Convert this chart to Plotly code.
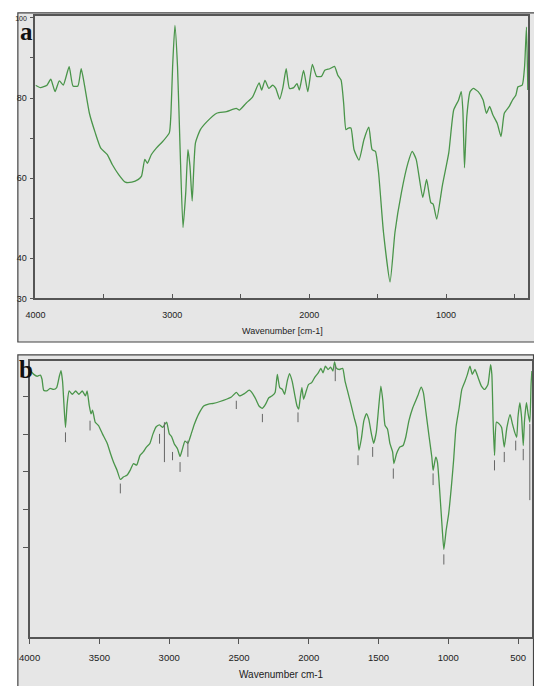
import plotly.graph_objects as go

W, H = 534, 686

# ---------------- Panel a data ----------------
a_wn = [4000, 3964, 3916, 3888, 3857, 3826, 3797, 3754, 3726, 3690, 3666, 3642, 3606, 3563, 3523,
        3475, 3439, 3392, 3344, 3296, 3248, 3225, 3201, 3182, 3153, 3117, 3069, 3022, 3010, 2998,
        2981, 2962, 2943, 2922, 2902, 2886, 2871, 2855, 2831, 2795, 2747, 2676, 2604, 2533, 2509,
        2461, 2413, 2366, 2347, 2323, 2294,
        2268, 2244, 2216, 2192, 2168, 2144, 2113, 2089, 2072, 2041, 2010, 1977, 1946, 1910, 1886,
        1850, 1815, 1791, 1767, 1748, 1731, 1714, 1695, 1672, 1636, 1600, 1564, 1540, 1516, 1493,
        1457, 1409, 1373, 1326, 1278, 1247, 1218, 1170, 1142, 1111, 1094, 1068, 1027, 980, 944,
        908, 889, 877, 865, 848, 824, 801, 765, 729, 705, 681, 658, 626, 598, 574, 538, 514, 490,
        474, 443, 426, 412, 402]
a_T = [83.2, 82.6, 83.2, 84.7, 81.6, 84.3, 83.2, 87.8, 83.0, 83.0, 87.3, 83.2, 76.2, 71.3, 67.5,
       65.9, 63.4, 60.9, 59.0, 59.0, 59.7, 60.5, 64.7, 63.7, 65.9, 67.5, 69.2, 71.3, 76.2, 87.8,
       98.1, 87.8, 67.1, 47.7, 56.4, 67.1, 63.0, 54.3, 68.8, 72.1, 74.1, 76.2, 76.6, 77.4, 77.0,
       78.7, 80.3, 83.8, 82.0, 84.4, 82.4,
       83.2, 82.4, 79.7, 82.6, 87.3, 82.4, 82.6, 83.6, 82.0, 86.9, 81.6, 88.4, 85.4, 85.4, 86.9,
       87.3, 87.9, 85.7, 84.5, 78.7, 72.1, 72.5, 72.5, 67.1, 64.5, 69.6, 72.7, 67.1, 66.7, 61.4,
       46.5, 34.1, 46.5, 56.4, 63.8, 66.7, 64.7, 55.2, 59.7, 53.9, 53.5, 49.8, 58.1, 66.3, 77.0,
       79.5, 81.6, 77.0, 62.6, 75.4, 81.6, 82.4, 81.6, 79.5, 76.2, 77.9, 75.8, 73.7, 70.4, 76.2,
       77.9, 79.5, 80.7, 82.8, 83.2, 87.8, 97.7, 82.0]

a_xtickvals = [4000, 3500, 3000, 2500, 2000, 1500, 1000, 500, 400]
a_xticktext = ["4000", "", "3000", "", "2000", "", "1000", "", "400"]
a_ytickvals = [30, 40, 50, 60, 70, 80, 90, 100]
a_yticktext = ["30", "40", "", "60", "", "80", "", "<span style='font-size:7px'>100</span>"]

# ---------------- Panel b data ----------------
b_wn = [3993, 3970, 3946, 3923, 3911, 3899, 3876, 3853, 3829, 3806, 3787, 3775, 3764, 3754, 3743,
        3731, 3717, 3694, 3670, 3647, 3623, 3600, 3588, 3572, 3560, 3549, 3530, 3506, 3478, 3443,
        3420, 3397, 3373, 3350, 3326, 3303, 3280, 3256, 3233, 3209, 3186, 3163, 3139, 3116, 3093,
        3069, 3046, 3034, 3018, 2999, 2983, 2964, 2940, 2922, 2905, 2887, 2866, 2842, 2819, 2788,
        2753, 2718, 2683, 2636, 2590, 2554, 2519, 2496, 2461, 2426, 2402, 2379, 2356, 2332, 2309,
        2286, 2262,
        2241, 2225, 2208, 2189, 2173, 2154, 2138, 2119, 2101, 2084, 2072, 2061, 2049, 2037, 2021,
        2002, 1979, 1956, 1932, 1913, 1897, 1881, 1862, 1843, 1827, 1815, 1803, 1780, 1757, 1740,
        1722, 1698, 1675, 1656, 1640, 1623, 1605, 1586, 1570, 1551, 1535, 1516, 1499, 1483, 1469,
        1453, 1436, 1418, 1399, 1390, 1371, 1347, 1324, 1305, 1282, 1254, 1219, 1195, 1179, 1160,
        1137, 1118, 1109, 1090, 1078, 1062, 1043, 1032, 1015, 997, 978, 962, 945, 922, 903, 880,
        863, 845, 828, 809, 786, 763, 739, 716, 697, 688, 679, 669, 655, 634, 618, 599, 580, 557,
        540, 524, 510, 501, 487, 475, 463, 454, 440, 428, 416, 407, 401]
b_T = [106.8, 105.9, 105.4, 105.7, 104.6, 101.7, 101.5, 102.2, 101.9, 102.4, 105.4, 106.9, 104.1, 98.0, 91.8,
       98.0, 101.5, 100.6, 101.5, 100.6, 101.5, 100.2, 101.5, 97.5, 95.4, 96.4, 93.2, 92.3, 90.1, 87.5,
       84.8, 82.4, 80.4, 78.0, 78.7, 79.1, 80.4, 82.2, 81.8, 84.4, 85.3, 86.6, 87.5, 90.1, 92.0,
       92.5, 91.8, 92.5, 93.2, 90.1, 89.4, 87.5, 86.1, 84.1, 86.1, 88.2, 87.6, 90.1, 92.7, 95.4,
       97.5, 98.0, 98.2, 98.7, 99.3, 99.9, 101.1, 100.2, 100.8, 101.7, 100.8, 99.3, 97.5, 96.9, 98.0,
       99.7, 100.2,
       101.1, 105.9, 102.4, 101.9, 100.6, 104.1, 106.1, 104.1, 100.6, 97.5, 96.7, 99.7, 102.4, 99.3, 101.1,
       103.2, 103.7, 105.2, 106.3, 107.5, 106.3, 108.1, 107.2, 107.8, 106.8, 109.2, 107.6, 107.2, 107.5, 104.1,
       101.5, 98.0, 94.5, 91.8, 85.7, 88.8, 93.6, 95.5, 94.0, 90.1, 87.6, 90.5, 97.1, 102.8, 98.9,
       92.3, 91.4, 87.5, 85.3, 82.2, 84.8, 86.6, 87.0, 89.2, 93.6, 97.1, 100.2, 102.5, 101.1, 95.8,
       89.2, 83.9, 80.4, 83.9, 82.6, 75.2, 64.6, 59.4, 64.6, 69.0, 76.1, 83.1, 91.8, 97.1, 101.9, 104.1,
       105.9, 108.1, 105.9, 107.2, 105.0, 102.8, 101.9, 103.2, 108.5, 105.9, 93.6, 84.4, 93.2, 92.7, 91.8, 86.6, 91.8, 95.2,
       92.7, 90.5, 89.2, 94.5, 98.4, 94.5, 87.0, 93.6, 98.4, 95.4, 93.2, 103.2, 106.8]

# peak-marker ticks (wavenumber, top and bottom of the small vertical line)
b_peak_wn = [3743, 3567, 3350, 3069, 3034, 2976, 2922, 2866, 2519, 2332,
             2077, 1810, 1647, 1542, 1394, 1109, 1032, 669, 599, 517, 463, 416]
b_peak_top = [90.5, 93.6, 76.9, 90.1, 93.2, 85.3, 82.6, 88.3, 98.9, 95.4,
              95.8, 108.1, 84.4, 86.6, 80.9, 79.6, 58.1, 83.1, 85.3, 88.3, 86.1, 92.7]
b_peak_bot = [87.9, 91.0, 74.3, 87.5, 82.6, 83.1, 80.0, 84.0, 96.7, 93.2,
              93.2, 104.1, 81.8, 84.0, 78.2, 76.5, 55.4, 80.4, 82.6, 85.7, 83.1, 72.5]

b_xtickvals = [4000, 3500, 3000, 2500, 2000, 1500, 1000, 500]
b_xticktext = ["4000", "3500", "3000", "2500", "2000", "1500", "1000", "500"]
b_ytickvals = [60, 70, 80, 90, 100]

# ---------------- figure ----------------
LINE = "#4a954a"
BG = "#e6e6e6"
AX = "#555555"
SANS = "Liberation Sans, Arial, sans-serif"
SERIF = "Liberation Serif, Times New Roman, serif"


def px(x):
    return x / W


def py(y):
    return 1 - y / H


fig = go.Figure()
fig.add_trace(go.Scatter(x=a_wn, y=a_T, mode="lines",
                         line=dict(color=LINE, width=1.3, shape="spline", smoothing=0.5),
                         xaxis="x", yaxis="y", showlegend=False, hoverinfo="skip"))
fig.add_trace(go.Scatter(x=b_wn, y=b_T, mode="lines",
                         line=dict(color=LINE, width=1.3, shape="spline", smoothing=0.5),
                         xaxis="x2", yaxis="y2", showlegend=False, hoverinfo="skip"))

mx, my = [], []
for w, t, b in zip(b_peak_wn, b_peak_top, b_peak_bot):
    mx += [w, w, None]
    my += [t, b, None]
fig.add_trace(go.Scatter(x=mx, y=my, mode="lines", line=dict(color="#666666", width=1),
                         xaxis="x2", yaxis="y2", showlegend=False, hoverinfo="skip"))

axis_common = dict(showgrid=False, zeroline=False, showline=True, mirror=True,
                   linecolor=AX, linewidth=1.6, tickcolor=AX)

fig.update_layout(
    width=W, height=H, margin=dict(l=0, r=0, t=0, b=0),
    paper_bgcolor="white", plot_bgcolor=BG,
    xaxis=dict(domain=[px(25), px(528)], range=[4000, 400], anchor="y",
               tickmode="array", tickvals=a_xtickvals, ticktext=a_xticktext,
               ticks="inside", ticklen=5, tickwidth=1, ticklabelstandoff=7,
               tickfont=dict(family=SANS, size=9, color="#222"), **axis_common),
    yaxis=dict(domain=[py(300), py(15)], range=[30, 100.5], anchor="x",
               tickmode="array", tickvals=a_ytickvals, ticktext=a_yticktext,
               ticks="outside", ticklen=4, tickwidth=1, ticklabelstandoff=1,
               tickfont=dict(family=SANS, size=9, color="#222"), **axis_common),
    xaxis2=dict(domain=[px(19), px(532)], range=[4000, 400], anchor="y2",
                tickmode="array", tickvals=b_xtickvals, ticktext=b_xticktext,
                ticks="outside", ticklen=5, tickwidth=1, ticklabelstandoff=5,
                tickfont=dict(family=SANS, size=9.5, color="#222"), **axis_common),
    yaxis2=dict(domain=[py(642), py(363)], range=[36.05, 109.5], anchor="x2",
                tickmode="array", tickvals=b_ytickvals, ticktext=[""] * len(b_ytickvals),
                ticks="outside", ticklen=5, tickwidth=1, **axis_common),
)

# panel frames (grey boxes)
fig.add_shape(type="rect", xref="paper", yref="paper", x0=px(7), x1=px(545), y0=py(344), y1=py(12),
              fillcolor=BG, line=dict(color="#444", width=1.2), layer="below")
fig.add_shape(type="rect", xref="paper", yref="paper", x0=px(7), x1=px(533.5), y0=py(700), y1=py(357),
              fillcolor=BG, line=dict(color="#444", width=1.2), layer="below")

# axis titles and panel letters
fig.add_annotation(x=px(277), y=py(333), xref="paper", yref="paper", text="Wavenumber [cm-1]",
                   showarrow=False, font=dict(family=SANS, size=9, color="#222"),
                   xanchor="center", yanchor="middle")
fig.add_annotation(x=px(276), y=py(679), xref="paper", yref="paper", text="Wavenumber cm-1",
                   showarrow=False, font=dict(family=SANS, size=10, color="#222"),
                   xanchor="center", yanchor="middle")
fig.add_annotation(x=px(7), y=py(15), xref="paper", yref="paper", text="<b>a</b>",
                   showarrow=False, font=dict(family=SERIF, size=25, color="#111"),
                   xanchor="left", yanchor="top")
fig.add_annotation(x=px(6), y=py(356), xref="paper", yref="paper", text="<b>b</b>",
                   showarrow=False, font=dict(family=SERIF, size=25, color="#111"),
                   xanchor="left", yanchor="top")

fig.write_html("out.html", config={"displayModeBar": False},
               post_script="document.body.style.margin='0';document.body.style.overflow='hidden';")
